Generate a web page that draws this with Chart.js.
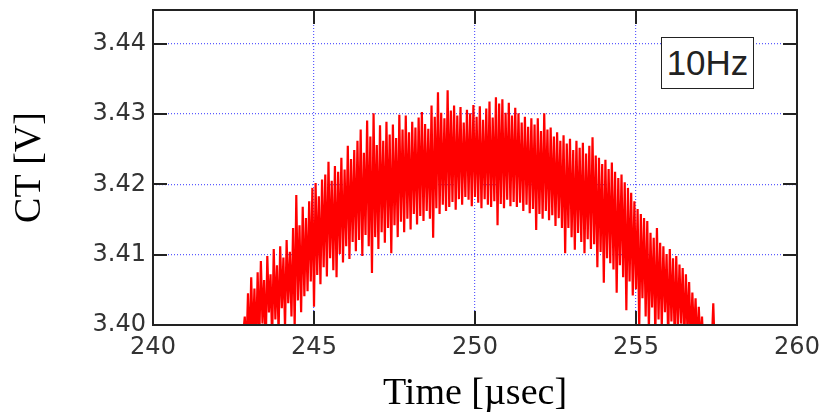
<!DOCTYPE html>
<html>
<head>
<meta charset="utf-8">
<script src="https://cdn.jsdelivr.net/npm/chart.js@4.4.1/dist/chart.umd.min.js"></script>
<style>
  body { margin: 0; background: #fff; }
  #wrap { position: relative; width: 820px; height: 418px; }
  #tag {
    position: absolute; left: 661px; top: 37px; width: 93px; height: 52px;
    box-sizing: border-box; border: 1.5px solid #222; background: #fff;
    font: 35px "Liberation Sans", Arial, sans-serif; color: #222;
    text-align: center; line-height: 49px;
  }
</style>
</head>
<body>
<div id="wrap">
  <canvas id="ctchart" width="820" height="418"></canvas>
  <div id="tag">10Hz</div>
</div>
<script>
// sample times [usec]
var timeUs = [
  242.80,242.85,242.90,242.95,243.00,243.05,243.10,243.15,243.20,243.25,
  243.30,243.35,243.40,243.45,243.50,243.55,243.60,243.65,243.70,243.75,
  243.80,243.85,243.90,243.95,244.00,244.05,244.10,244.15,244.20,244.25,
  244.30,244.35,244.40,244.45,244.50,244.55,244.60,244.65,244.70,244.75,
  244.80,244.85,244.90,244.95,245.00,245.05,245.10,245.15,245.20,245.25,
  245.30,245.35,245.40,245.45,245.50,245.55,245.60,245.65,245.70,245.75,
  245.80,245.85,245.90,245.95,246.00,246.05,246.10,246.15,246.20,246.25,
  246.30,246.35,246.40,246.45,246.50,246.55,246.60,246.65,246.70,246.75,
  246.80,246.85,246.90,246.95,247.00,247.05,247.10,247.15,247.20,247.25,
  247.30,247.35,247.40,247.45,247.50,247.55,247.60,247.65,247.70,247.75,
  247.80,247.85,247.90,247.95,248.00,248.05,248.10,248.15,248.20,248.25,
  248.30,248.35,248.40,248.45,248.50,248.55,248.60,248.65,248.70,248.75,
  248.80,248.85,248.90,248.95,249.00,249.05,249.10,249.15,249.20,249.25,
  249.30,249.35,249.40,249.45,249.50,249.55,249.60,249.65,249.70,249.75,
  249.80,249.85,249.90,249.95,250.00,250.05,250.10,250.15,250.20,250.25,
  250.30,250.35,250.40,250.45,250.50,250.55,250.60,250.65,250.70,250.75,
  250.80,250.85,250.90,250.95,251.00,251.05,251.10,251.15,251.20,251.25,
  251.30,251.35,251.40,251.45,251.50,251.55,251.60,251.65,251.70,251.75,
  251.80,251.85,251.90,251.95,252.00,252.05,252.10,252.15,252.20,252.25,
  252.30,252.35,252.40,252.45,252.50,252.55,252.60,252.65,252.70,252.75,
  252.80,252.85,252.90,252.95,253.00,253.05,253.10,253.15,253.20,253.25,
  253.30,253.35,253.40,253.45,253.50,253.55,253.60,253.65,253.70,253.75,
  253.80,253.85,253.90,253.95,254.00,254.05,254.10,254.15,254.20,254.25,
  254.30,254.35,254.40,254.45,254.50,254.55,254.60,254.65,254.70,254.75,
  254.80,254.85,254.90,254.95,255.00,255.05,255.10,255.15,255.20,255.25,
  255.30,255.35,255.40,255.45,255.50,255.55,255.60,255.65,255.70,255.75,
  255.80,255.85,255.90,255.95,256.00,256.05,256.10,256.15,256.20,256.25,
  256.30,256.35,256.40,256.45,256.50,256.55,256.60,256.65,256.70,256.75,
  256.80,256.85,256.90,256.95,257.00,257.05,257.10,257.15,257.20,257.25,
  257.30,257.35,257.40,257.45,257.50,257.55,257.60
];

// CT signal [V], 10Hz
var ctVolts = [
  3.3985,3.4012,3.3962,3.4045,3.3958,3.4068,3.3971,3.4052,3.3966,3.4075,
  3.3975,3.4091,3.4002,3.4064,3.3968,3.4098,3.4018,3.4072,3.3979,3.4108,
  3.4008,3.4085,3.3989,3.4112,3.4024,3.4096,3.3995,3.4121,3.4031,3.4104,
  3.4012,3.4138,3.3996,3.4185,3.4035,3.4142,3.4018,3.4168,3.4041,3.4152,
  3.4048,3.4176,3.4062,3.4195,3.4026,3.4202,3.4071,3.4183,3.4058,3.4207,
  3.4082,3.4214,3.4069,3.4232,3.4095,3.4205,3.4078,3.4226,3.4068,3.4218,
  3.4101,3.4238,3.4089,3.4221,3.4112,3.4255,3.4094,3.4236,3.4118,3.4249,
  3.4105,3.4262,3.4121,3.4278,3.4098,3.4245,3.4128,3.4291,3.4112,3.4268,
  3.4074,3.4301,3.4125,3.4256,3.4108,3.4284,3.4132,3.4262,3.4117,3.4289,
  3.4138,3.4271,3.4102,3.4285,3.4142,3.4266,3.4125,3.4299,3.4147,3.4278,
  3.4132,3.4298,3.4151,3.4274,3.4136,3.4289,3.4158,3.4281,3.4143,3.4295,
  3.4155,3.4303,3.4148,3.4286,3.4162,3.4279,3.4151,3.4312,3.4124,3.4296,
  3.4166,3.4331,3.4158,3.4302,3.4171,3.4294,3.4162,3.4334,3.4168,3.4305,
  3.4175,3.4312,3.4164,3.4298,3.4179,3.4310,3.4171,3.4288,3.4182,3.4306,
  3.4178,3.4301,3.4169,3.4313,3.4182,3.4296,3.4174,3.4311,3.4166,3.4292,
  3.4179,3.4308,3.4171,3.4318,3.4168,3.4295,3.4176,3.4324,3.4142,3.4315,
  3.4172,3.4321,3.4166,3.4302,3.4178,3.4316,3.4169,3.4298,3.4175,3.4309,
  3.4168,3.4301,3.4174,3.4288,3.4162,3.4296,3.4171,3.4282,3.4159,3.4294,
  3.4165,3.4285,3.4135,3.4294,3.4158,3.4276,3.4151,3.4301,3.4162,3.4278,
  3.4149,3.4281,3.4156,3.4268,3.4141,3.4274,3.4152,3.4262,3.4138,3.4270,
  3.4102,3.4258,3.4138,3.4265,3.4125,3.4249,3.4107,3.4262,3.4131,3.4252,
  3.4118,3.4259,3.4102,3.4244,3.4122,3.4255,3.4108,3.4267,3.4115,3.4241,
  3.4082,3.4238,3.4104,3.4229,3.4060,3.4235,3.4095,3.4222,3.4088,3.4231,
  3.4079,3.4218,3.4046,3.4209,3.4085,3.4214,3.4068,3.4203,3.4021,3.4195,
  3.4062,3.4188,3.4042,3.4176,3.4051,3.4165,3.3995,3.4158,3.4038,3.4152,
  3.4012,3.4148,3.3992,3.4131,3.4025,3.4124,3.3985,3.4138,3.4008,3.4117,
  3.3996,3.4112,3.4018,3.4101,3.3978,3.4108,3.4005,3.4095,3.3982,3.4098,
  3.3991,3.4086,3.4002,3.4081,3.3975,3.4072,3.3988,3.4061,3.3968,3.4046,
  3.3982,3.4038,3.3965,3.4026,3.3971,3.4012,3.3958,3.3992,3.3948,3.3975,
  3.3952,3.3968,3.4031,3.3955,3.3962,3.3948,3.3955
];

var xRange = [240, 260];
var yRange = [3.40, 3.4448];

var points = [];
for (var i = 0; i < timeUs.length; i++) {
  points.push({x: timeUs[i], y: ctVolts[i]});
}

var tickFont = {family: "'DejaVu Sans', sans-serif", size: 24};
var titleFont = {family: "'Liberation Serif', 'Times New Roman', serif", size: 38};
var gridColor = '#5c5cff';

// black frame + inward tick marks on all four sides
var frameTicks = {
  id: 'frameTicks',
  afterDraw: function(chart) {
    var ctx = chart.ctx, a = chart.chartArea;
    var xs = chart.scales.x, ys = chart.scales.y;
    ctx.save();
    ctx.strokeStyle = '#222';
    ctx.lineWidth = 2;
    ctx.beginPath();
    xs.ticks.forEach(function(t) {
      var px = Math.round(xs.getPixelForValue(t.value));
      ctx.moveTo(px, a.bottom); ctx.lineTo(px, a.bottom - 14);
      ctx.moveTo(px, a.top); ctx.lineTo(px, a.top + 14);
    });
    ys.ticks.forEach(function(t) {
      var py = Math.round(ys.getPixelForValue(t.value));
      ctx.moveTo(a.left, py); ctx.lineTo(a.left + 14, py);
      ctx.moveTo(a.right, py); ctx.lineTo(a.right - 14, py);
    });
    ctx.stroke();
    ctx.strokeRect(a.left, a.top, a.right - a.left, a.bottom - a.top);
    ctx.restore();
  }
};

var chart = new Chart(document.getElementById('ctchart'), {
  type: 'line',
  data: {
    datasets: [{
      label: '10Hz',
      data: points,
      borderColor: '#ff0000',
      borderWidth: 2.2,
      pointRadius: 0,
      tension: 0,
      clip: 0
    }]
  },
  options: {
    responsive: false,
    animation: false,
    devicePixelRatio: 1,
    layout: {padding: {left: 0, right: 23, top: 10, bottom: 0}},
    plugins: {legend: {display: false}, tooltip: {enabled: false}},
    scales: {
      x: {
        type: 'linear',
        z: 1,
        min: xRange[0],
        max: xRange[1],
        ticks: {stepSize: 5, font: tickFont, color: '#333', padding: 8, maxRotation: 0},
        grid: {color: gridColor, lineWidth: 1.2, drawTicks: false},
        border: {display: false, dash: [1, 2]},
        title: {display: true, text: 'Time [µsec]', font: titleFont, color: '#000', padding: {top: 0, bottom: 1}},
        afterFit: function(s) { s.height = 93; s.paddingLeft = 0; s.paddingRight = 0; }
      },
      y: {
        type: 'linear',
        z: 1,
        min: yRange[0],
        max: yRange[1],
        ticks: {
          stepSize: 0.01, includeBounds: false, font: tickFont, color: '#333', padding: 7,
          callback: function(v) { return v.toFixed(2); }
        },
        grid: {color: gridColor, lineWidth: 1.2, drawTicks: false},
        border: {display: false, dash: [1, 2]},
        title: {display: true, text: 'CT [V]', font: titleFont, color: '#000', padding: {top: 7, bottom: 0}},
        afterFit: function(s) { s.width = 153; s.paddingTop = 0; s.paddingBottom = 0; }
      }
    }
  },
  plugins: [frameTicks]
});
</script>
</body>
</html>
